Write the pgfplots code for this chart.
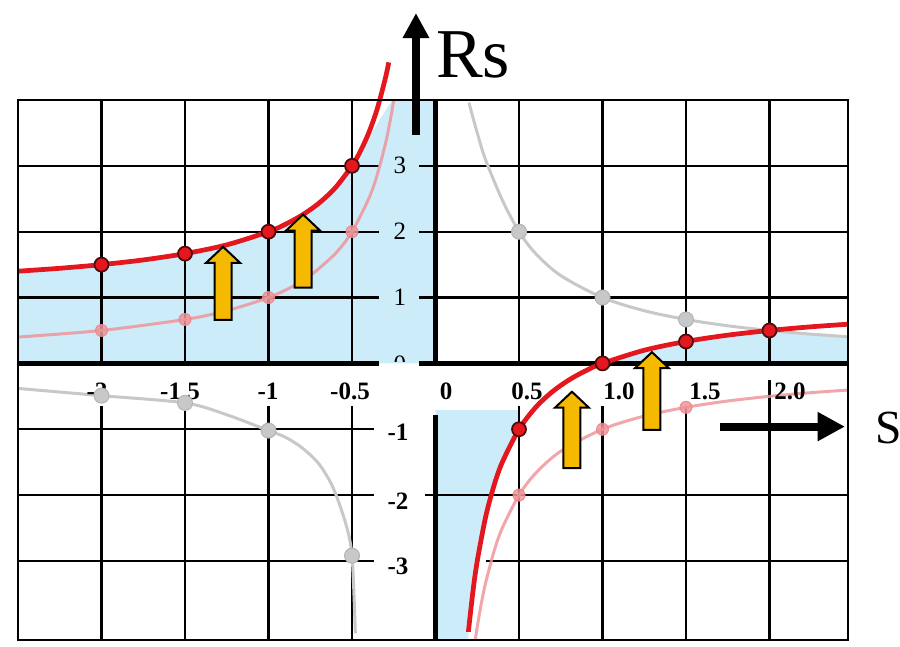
\documentclass[border=0pt]{standalone}
\usepackage{fontspec}
\setmainfont{Liberation Serif}
\usepackage{pgfplots}
\pgfplotsset{compat=1.18}
\usetikzlibrary{arrows.meta}

\definecolor{rsblue}{RGB}{204,236,250}
\definecolor{rsred}{RGB}{228,22,30}
\definecolor{rsdark}{RGB}{80,10,10}
\definecolor{rspink}{RGB}{238,150,155}
\definecolor{rsgray}{RGB}{200,200,200}
\definecolor{rsyellow}{RGB}{245,185,0}

\tikzset{
  gridline/.style={line width=0.9pt, black},
  thickaxis/.style={line width=2pt, black},
  ticklab/.style={font=\fontsize{10}{12}\selectfont\bfseries, inner sep=0pt},
}

% yellow block arrow pointing up: #1 = s, #2 = base, #3 = tip
\newcommand{\risearrow}[3]{%
  \draw[line width=0.8pt, fill=rsyellow, line join=miter]
    ([xshift=-3.4pt]axis cs:#1,#2) -- ([xshift=-3.4pt,yshift=-6.4pt]axis cs:#1,#3)
    -- ([xshift=-6.8pt,yshift=-6.4pt]axis cs:#1,#3) -- (axis cs:#1,#3)
    -- ([xshift=6.8pt,yshift=-6.4pt]axis cs:#1,#3) -- ([xshift=3.4pt,yshift=-6.4pt]axis cs:#1,#3)
    -- ([xshift=3.4pt]axis cs:#1,#2) -- cycle;}

\begin{document}
\begin{tikzpicture}
\begin{axis}[
  scale only axis, width=332pt, height=216pt,
  xmin=-2.5, xmax=2.47, ymin=-4.2, ymax=4,
  xtick=\empty, ytick=\empty,
  axis line style={line width=0.9pt},
  axis on top, clip=false,
]
% stable regions
\addplot[fill=rsblue, draw=none] coordinates {(-2.5,0) (-2.5,1.4) (-2.25,1.444) (-2,1.5) (-1.75,1.571) (-1.5,1.667) (-1.25,1.8) (-1,2) (-0.9,2.111) (-0.8,2.25) (-0.7,2.429) (-0.6,2.667) (-0.5,3) (-0.45,3.222) (-0.26,4) (0,4) (0,0)} -- cycle;
\addplot[fill=rsblue, draw=none] coordinates {(1,0) (1.1,0.091) (1.25,0.2) (1.5,0.333) (1.75,0.429) (2,0.5) (2.25,0.444) (2.47,0.405) (2.47,0)} -- cycle;
\addplot[fill=rsblue, draw=none] coordinates {(0,-0.71) (0.5,-0.71) (0.5,-1) (0.45,-1.222) (0.4,-1.5) (0.35,-1.857) (0.3,-2.333) (0.25,-3) (0.225,-3.444) (0.2,-4) (0.196,-4.2) (0,-4.2)} -- cycle;

% grid
\pgfplotsinvokeforeach{-2,-1.5,-1,-0.5,0.5,1,1.5}{
  \draw[gridline] (axis cs:#1,0) -- (axis cs:#1,4);
  \draw[gridline] (axis cs:#1,-0.65) -- (axis cs:#1,-4.2);
}
\draw[gridline] (axis cs:2,0) -- (axis cs:2,4);
\draw[gridline] (axis cs:2,-0.25) -- (axis cs:2,-4.2);
\pgfplotsinvokeforeach{1,2,3}{
  \draw[gridline] (axis cs:-2.5,#1) -- (axis cs:-0.34,#1);
  \draw[gridline] (axis cs:-0.1,#1) -- (axis cs:2.47,#1);
  \draw[gridline] (axis cs:-2.5,-#1) -- (axis cs:-0.37,-#1);
}
\draw[gridline] (axis cs:-0.06,-2) -- (axis cs:2.47,-2);
\draw[gridline] (axis cs:0.3,-3) -- (axis cs:2.47,-3);

% axes
\draw[thickaxis] (axis cs:-2.5,0) -- (axis cs:-0.34,0);
\draw[thickaxis] (axis cs:-0.1,0) -- (axis cs:2.47,0);
\draw[thickaxis] (axis cs:0,0) -- (axis cs:0,4);
\draw[thickaxis] (axis cs:0,-0.78) -- (axis cs:0,-4.2);

% Rs = 1/s
\addplot[rsgray, line width=1.2pt, smooth] coordinates {(0.2,3.96) (0.25,3.5) (0.3,3.09) (0.4,2.48) (0.5,2) (0.6,1.667) (0.75,1.333) (1,1) (1.25,0.8) (1.5,0.667) (1.75,0.571) (2,0.5) (2.25,0.444) (2.47,0.405)};
\addplot[rsgray, line width=1.2pt, smooth] coordinates {(-2.5,-0.38) (-2,-0.49) (-1.5,-0.6) (-1.25,-0.78) (-1,-1.02) (-0.9,-1.12) (-0.8,-1.28) (-0.7,-1.52) (-0.62,-1.85) (-0.56,-2.25) (-0.52,-2.6) (-0.5,-2.92) (-0.49,-3.4) (-0.48,-4.1)};
% Rs = -1/s
\addplot[rspink, line width=1.2pt, opacity=0.85, smooth] coordinates {(-2.5,0.4) (-2,0.5) (-1.5,0.667) (-1.25,0.8) (-1,1) (-0.85,1.176) (-0.75,1.333) (-0.6,1.667) (-0.5,2) (-0.4,2.5) (-0.35,2.857) (-0.3,3.333) (-0.27,3.704) (-0.25,4)};
\addplot[rspink, line width=1.2pt, opacity=0.85, smooth] coordinates {(0.238,-4.2) (0.25,-4) (0.275,-3.636) (0.3,-3.333) (0.35,-2.857) (0.4,-2.5) (0.5,-2) (0.6,-1.667) (0.75,-1.333) (1,-1) (1.25,-0.8) (1.5,-0.667) (1.75,-0.571) (2,-0.5) (2.25,-0.444) (2.47,-0.405)};
% Rs = 1 - 1/s
\addplot[rsred, line width=1.9pt, smooth] coordinates {(-2.5,1.4) (-2.25,1.444) (-2,1.5) (-1.75,1.571) (-1.5,1.667) (-1.25,1.8) (-1,2) (-0.9,2.111) (-0.8,2.25) (-0.7,2.429) (-0.6,2.667) (-0.5,3) (-0.45,3.222) (-0.4,3.5) (-0.35,3.857) (-0.3,4.333) (-0.28,4.571)};
\addplot[rsred, line width=1.9pt, smooth] coordinates {(0.197,-4.076) (0.2,-4) (0.225,-3.444) (0.25,-3) (0.3,-2.333) (0.35,-1.857) (0.4,-1.5) (0.5,-1) (0.6,-0.667) (0.7,-0.429) (0.8,-0.25) (0.9,-0.111) (1,0) (1.25,0.2) (1.5,0.333) (1.75,0.429) (2,0.5) (2.25,0.556) (2.47,0.595)};

% sample points
\addplot[only marks, mark=*, mark size=3pt, mark options={fill=rsgray, draw=rsgray!90!black}] coordinates {(0.5,2) (1,1) (1.5,0.667) (-2,-0.49) (-1.5,-0.6) (-1,-1.02) (-0.5,-2.92)};
\addplot[only marks, mark=*, mark size=2.4pt, opacity=0.85, mark options={fill=rspink, draw=rspink!85!red}] coordinates {(-2,0.5) (-1.5,0.667) (-1,1) (-0.5,2) (0.5,-2) (1,-1) (1.5,-0.667)};
\addplot[only marks, mark=*, mark size=2.8pt, mark options={fill=rsred, draw=rsdark, line width=0.7pt}] coordinates {(-2,1.5) (-1.5,1.667) (-1,2) (-0.5,3) (0.5,-1) (1,0) (1.5,0.333) (2,0.5)};

% rising arrows
\risearrow{-1.272}{0.66}{1.77}
\risearrow{-0.793}{1.15}{2.26}
\risearrow{0.817}{-1.59}{-0.43}
\risearrow{1.296}{-1.01}{0.17}

% axis arrows and names
\draw[line width=3.2pt, -{Triangle[width=10pt,length=10pt]}] (axis cs:-0.117,3.47) -- (axis cs:-0.117,5.32);
\draw[line width=3.2pt, -{Triangle[width=11pt,length=11pt]}] (axis cs:1.704,-0.96) -- (axis cs:2.452,-0.96);
\node[anchor=base west, inner sep=0pt, font=\fontsize{28}{30}\selectfont] at (axis cs:0.0,4.34) {Rs};
\node[anchor=base west, inner sep=0pt, font=\fontsize{19}{21}\selectfont] at (axis cs:2.63,-1.21) {S};

% tick labels
\node[ticklab] at (axis cs:-2.027,-0.42) {-2};
\node[ticklab] at (axis cs:-1.53,-0.42) {-1.5};
\node[ticklab] at (axis cs:-1.003,-0.42) {-1};
\node[ticklab] at (axis cs:-0.512,-0.42) {-0.5};
\node[ticklab] at (axis cs:0.063,-0.42) {0};
\node[ticklab] at (axis cs:0.548,-0.42) {0.5};
\node[ticklab] at (axis cs:1.099,-0.42) {1.0};
\node[ticklab] at (axis cs:1.614,-0.42) {1.5};
\node[ticklab] at (axis cs:2.122,-0.42) {2.0};
\node[ticklab, font=\fontsize{10}{12}\selectfont] at (axis cs:-0.213,3) {3};
\node[ticklab, font=\fontsize{10}{12}\selectfont] at (axis cs:-0.213,2) {2};
\node[ticklab, font=\fontsize{10}{12}\selectfont] at (axis cs:-0.213,1) {1};
\node[ticklab] at (axis cs:-0.225,-1.05) {-1};
\node[ticklab] at (axis cs:-0.225,-2.1) {-2};
\node[ticklab] at (axis cs:-0.225,-3.08) {-3};
\begin{scope}
  \clip (axis cs:-0.3,0.03) rectangle (axis cs:-0.12,0.3);
  \node[ticklab, font=\fontsize{10}{12}\selectfont] at (axis cs:-0.213,-0.02) {0};
\end{scope}

\coordinate (bbSW) at (axis cs:-2.6078,-4.306);
\coordinate (bbNE) at (axis cs:2.7814,5.5185);
\end{axis}
\pgfresetboundingbox
\path[use as bounding box] (bbSW) rectangle (bbNE);
\end{tikzpicture}
\end{document}
